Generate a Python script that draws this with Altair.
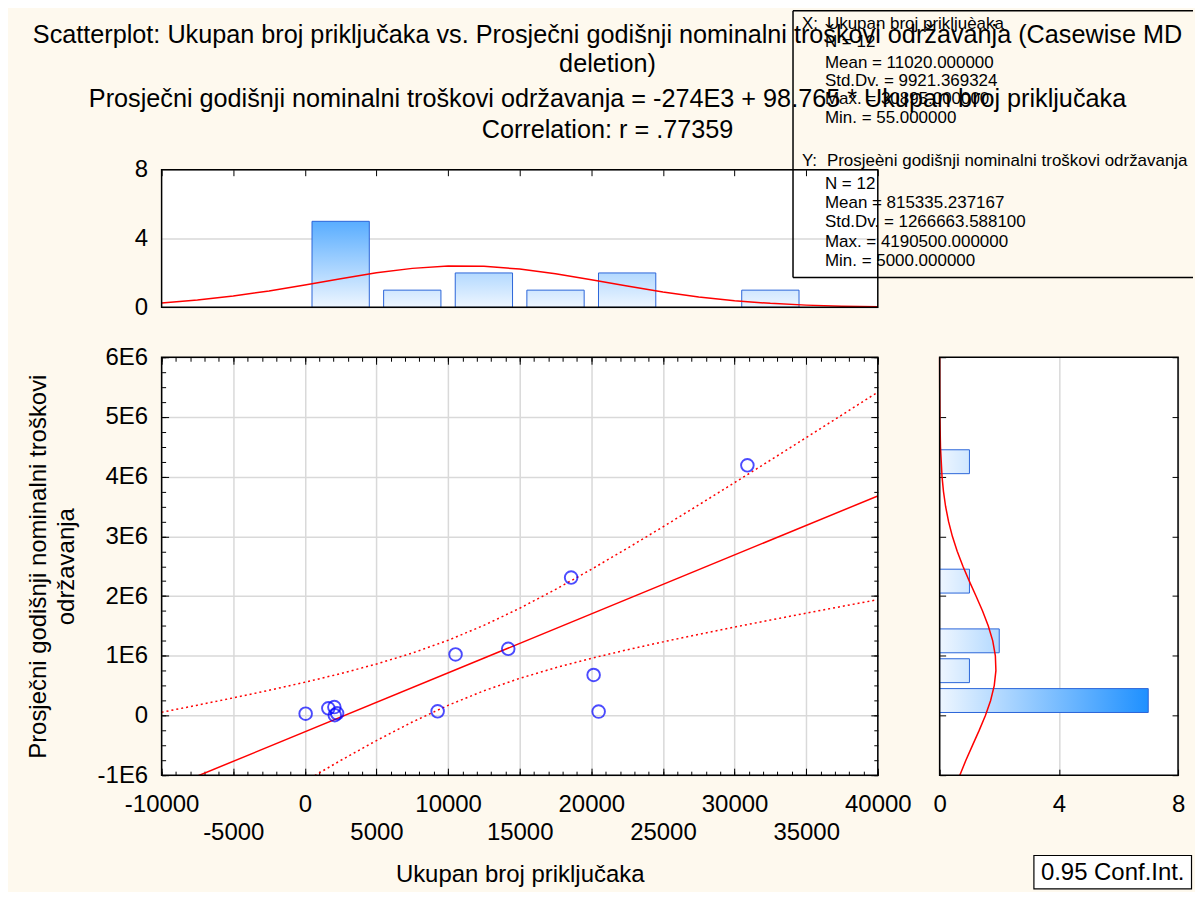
import altair as alt
import pandas as pd

# ---------------- data ----------------
pt_x = [55, 1640, 2060, 2090, 2250, 9270, 10520, 14200, 18590, 20160, 20510, 30895]
pt_y = [30000, 120000, 140000, 5000, 36500, 70000, 1022000, 1117000, 2310000, 678000, 65000, 4190500]

reg_x = [-10000, 40000]
reg_y = [-1261650, 3676600]

ci_x = [-10000, -7500, -5000, -2500, 0, 2500, 5000, 7500, 10000, 12500, 15000,
        17500, 20000, 22500, 25000, 27500, 30000, 32500, 35000, 37500, 40000]
ci_upper = [54000, 172500, 294700, 421800, 556200, 701200, 861800, 1045100, 1259100, 1509400, 1795500,
            2110700, 2447300, 2798500, 3159400, 3527200, 3899600, 4275500, 4653800, 5034100, 5415800]
ci_lower = [-2575400, -2200100, -1828500, -1461800, -1102300, -753400, -420200, -109700, 170100, 413600, 621400,
            799900, 957200, 1099900, 1232700, 1358800, 1480200, 1598200, 1713600, 1827200, 1939300]

hx_start = [0, 5000, 10000, 15000, 20000, 30000]
hx_count = [5, 1, 2, 1, 2, 1]
hy_start = [0, 500000, 1000000, 2000000, 4000000]
hy_count = [7, 1, 2, 1, 1]

nx_x = [-10000, -7500, -5000, -2500, 0, 2500, 5000, 7500, 10000, 12500, 15000,
        17500, 20000, 22500, 25000, 27500, 30000, 32500, 35000, 37500, 40000]
nx_c = [0.256, 0.423, 0.655, 0.954, 1.302, 1.669, 2.007, 2.266, 2.400, 2.386, 2.226,
        1.949, 1.602, 1.235, 0.894, 0.607, 0.387, 0.232, 0.130, 0.069, 0.034]
ny_v = [-1000000, -750000, -500000, -250000, 0, 250000, 500000, 750000, 1000000, 1250000,
        1500000, 1750000, 2000000, 2250000, 2500000, 2750000, 3000000, 3250000, 3500000,
        3750000, 4000000, 4500000, 5000000, 5500000, 6000000]
ny_c = [0.677, 0.881, 1.102, 1.327, 1.536, 1.711, 1.832, 1.888, 1.870, 1.782,
        1.633, 1.440, 1.220, 0.995, 0.781, 0.589, 0.427, 0.298, 0.200,
        0.129, 0.080, 0.028, 0.008, 0.002, 0.000]

title_lines = [
    "Scatterplot: Ukupan broj priključaka vs. Prosječni godišnji nominalni troškovi održavanja (Casewise MD",
    "deletion)",
    "Prosječni godišnji nominalni troškovi održavanja = -274E3 + 98.765 * Ukupan broj priključaka",
    "Correlation: r = .77359",
]
stats_lines = [
    "X:", "Ukupan broj prikljuèaka", "N = 12", "Mean = 11020.000000", "Std.Dv. = 9921.369324",
    "Max. = 30895.000000", "Min. = 55.000000",
    "Y:", "Prosjeèni godišnji nominalni troškovi održavanja", "N = 12", "Mean = 815335.237167",
    "Std.Dv. = 1266663.588100", "Max. = 4190500.000000", "Min. = 5000.000000",
]
x_title = "Ukupan broj priključaka"
y_title = ["Prosječni godišnji nominalni troškovi", "održavanja"]
legend_text = "0.95 Conf.Int."

# ---------------- layout / style ----------------
FONT = "Liberation Sans"
BG = "#fef9ee"
RED = "#ff0000"
W_MAIN, H_MAIN, H_TOP, W_RIGHT = 718, 419, 138, 239
GRID = "#d9d9d9"
BAR_STROKE = "#2b65d9"

# window-coordinate positions of annotation text (converted to panel coords)
TOP_OX, TOP_OY = 161, 168
R_OX, R_OY = 941, 356
WIN_R, WIN_B = 1195, 890          # last usable window pixel (page margin is 8px)
title_pos = [(608, 33), (608, 61.7), (608, 96.7), (608, 128)]
stats_pos = [(803, 21.7), (828, 21.7), (826, 40), (826, 61.5), (826, 79.5), (826, 97.5), (826, 116),
             (803, 159.5), (828, 159.5), (826, 182.5), (826, 201.5), (826, 220.5), (826, 240), (826, 259.3)]

X_MINOR = list(range(-10000, 40001, 1000))
X_MAJOR = list(range(-10000, 40001, 5000))
Y_MINOR = list(range(-1000000, 6000001, 250000))
Y_MAJOR = list(range(-1000000, 6000001, 1000000))

xs = alt.Scale(domain=[-10000, 40000], nice=False, zero=False)
ys = alt.Scale(domain=[-1000000, 6000000], nice=False, zero=False)
ts = alt.Scale(domain=[0, 8], nice=False, zero=False)


def blue(c):
    t = c / 7.0
    r = round(238 + (30 - 238) * t)
    g = round(246 + (144 - 246) * t)
    return "#%02x%02x%02x" % (r, g, 255)


def tick_axis(orient, values, size=5):
    # ticks pointing into the plot: axis pulled inside by its own length
    return alt.Axis(orient=orient, values=values, labels=False, grid=False, domain=False,
                    ticks=True, tickSize=size, tickColor="black", tickWidth=1, offset=-size, title=None)


LAB = dict(labelFont=FONT, labelFontSize=24, labelColor="black", labelFlush=False,
           labelOverlap=False, labelBound=False, ticks=False, domain=False)


def one():
    return pd.DataFrame({"a": [0]})


def frame(w, h):
    return alt.Chart(one()).mark_rect(fillOpacity=0, stroke="black", strokeWidth=1.5).encode(
        x=alt.value(0), x2=alt.value(w), y=alt.value(0), y2=alt.value(h))


def text_mark(t, x, y, size, align="left"):
    return alt.Chart(one()).mark_text(text=t, font=FONT, fontSize=size, align=align,
                                      baseline="middle", color="black").encode(
        x=alt.value(x), y=alt.value(y))


def rule(x1, y1, x2, y2, w=1.5):
    return alt.Chart(one()).mark_rule(color="black", strokeWidth=w).encode(
        x=alt.value(x1), x2=alt.value(x2), y=alt.value(y1), y2=alt.value(y2))


# ---------------- main scatter panel ----------------
pts_df = pd.DataFrame({"x": pt_x, "y": pt_y})
reg_df = pd.DataFrame({"x": reg_x, "y": reg_y})
ci_df = pd.DataFrame({"x": ci_x, "upper": ci_upper, "lower": ci_lower})

x_lab_axis = alt.Axis(
    orient="bottom", values=X_MAJOR,
    labelExpr="datum.value % 10000 === 0 ? '' + datum.value : ['', '' + datum.value]",
    labelLineHeight=27.5, labelPadding=17.5, grid=True, gridColor=GRID, gridWidth=1.5,
    title=x_title, titleFont=FONT, titleFontSize=24, titleFontWeight="normal", titleColor="black",
    titleY=100, titleBaseline="middle", **LAB)
y_lab_axis = alt.Axis(
    orient="left", values=Y_MAJOR,
    labelExpr="datum.value === 0 ? '0' : (datum.value / 1000000) + 'E6'",
    labelPadding=14, grid=True, gridColor=GRID, gridWidth=1.5,
    title=y_title, titleFont=FONT, titleFontSize=24, titleFontWeight="normal", titleColor="black",
    titleX=-135, titleY=H_MAIN / 2, titleAngle=270, titleAlign="center", titleBaseline="top",
    titleLineHeight=28, **LAB)

reg = alt.Chart(reg_df).mark_line(color=RED, strokeWidth=1.5, clip=True).encode(
    x=alt.X("x:Q", scale=xs, axis=tick_axis("bottom", X_MINOR, 4)),
    y=alt.Y("y:Q", scale=ys, axis=tick_axis("left", Y_MINOR, 4)))
ciu = alt.Chart(ci_df).mark_line(color=RED, strokeWidth=1.5, strokeDash=[2, 3], clip=True).encode(
    x=alt.X("x:Q", scale=xs, axis=tick_axis("top", X_MINOR, 4)),
    y=alt.Y("upper:Q", scale=ys, axis=tick_axis("right", Y_MINOR, 4)))
cil = alt.Chart(ci_df).mark_line(color=RED, strokeWidth=1.5, strokeDash=[2, 3], clip=True).encode(
    x=alt.X("x:Q", scale=xs, axis=tick_axis("bottom", X_MAJOR, 7)),
    y=alt.Y("lower:Q", scale=ys, axis=tick_axis("left", Y_MAJOR, 7)))
# carries the major ticks of the top and right edges (draws nothing visible)
ghost = alt.Chart(pts_df).mark_point(opacity=0).encode(
    x=alt.X("x:Q", scale=xs, axis=tick_axis("top", X_MAJOR, 7)),
    y=alt.Y("y:Q", scale=ys, axis=tick_axis("right", Y_MAJOR, 7)))
pts = alt.Chart(pts_df).mark_point(shape="circle", filled=False, color="#0000ff", size=160,
                                   strokeWidth=1.9).encode(
    x=alt.X("x:Q", scale=xs, axis=x_lab_axis),
    y=alt.Y("y:Q", scale=ys, axis=y_lab_axis))

main = alt.layer(reg, ciu, cil, ghost, pts, frame(W_MAIN, H_MAIN)).resolve_axis(
    x="independent", y="independent").properties(width=W_MAIN, height=H_MAIN)

# ---------------- top histogram (X) ----------------
hx_df = pd.DataFrame({"start": hx_start, "count": hx_count})
top_layers = []
# invisible rect fixing the overall extent of the figure (svg 1187 x 882)
top_layers.append(alt.Chart(one()).mark_rect(opacity=0).encode(
    x=alt.value(8 - TOP_OX), x2=alt.value(WIN_R - TOP_OX),
    y=alt.value(8 - TOP_OY), y2=alt.value(WIN_B - TOP_OY)))
for i, c in enumerate(sorted(set(hx_count))):
    grad = {"gradient": "linear", "x1": 0, "y1": 1, "x2": 0, "y2": 0,
            "stops": [{"offset": 0, "color": "#eef6ff"}, {"offset": 1, "color": blue(c)}]}
    if i == 0:
        xa = tick_axis("top", X_MAJOR, 6)
        ya = alt.Axis(orient="left", values=[0, 4, 8], labelPadding=14, grid=True, gridColor=GRID,
                      gridWidth=1.5, title=None, **LAB)
    else:
        xa, ya = None, None
    top_layers.append(
        alt.Chart(hx_df).transform_filter(f"datum.count == {c}")
        .transform_calculate(x0="datum.start + 500", x1="datum.start + 4500")
        .mark_rect(fill=grad, stroke=BAR_STROKE, strokeWidth=1)
        .encode(x=alt.X("x0:Q", scale=xs, axis=xa), x2="x1:Q",
                y=alt.Y("count:Q", scale=ts, axis=ya), y2=alt.datum(0)))
top_layers.append(alt.Chart(pd.DataFrame({"x": nx_x, "c": nx_c})).mark_line(
    color=RED, strokeWidth=1.5).encode(
    x=alt.X("x:Q", scale=xs, axis=None), y=alt.Y("c:Q", scale=ts, axis=None)))
top_layers.append(frame(W_MAIN, H_TOP))
for t, (wx, wy) in zip(title_lines, title_pos):
    top_layers.append(text_mark(t, wx - TOP_OX, wy - TOP_OY, 25.3, align="center"))
# statistics box (its right side runs off the picture)
bx1, by1, by2, bx2 = 794 - TOP_OX, 8.75 - TOP_OY, 276 - TOP_OY, WIN_R - TOP_OX
top_layers += [rule(bx1, by1, bx2, by1), rule(bx1, by1, bx1, by2), rule(bx1, by2, bx2, by2)]
for t, (wx, wy) in zip(stats_lines, stats_pos):
    top_layers.append(text_mark(t, wx - TOP_OX, wy - TOP_OY, 17))

top = alt.layer(*top_layers).resolve_axis(x="independent", y="independent").properties(
    width=W_MAIN, height=H_TOP)

# ---------------- right histogram (Y) ----------------
hy_df = pd.DataFrame({"start": hy_start, "count": hy_count})
r_layers = []
for i, c in enumerate(sorted(set(hy_count))):
    grad = {"gradient": "linear", "x1": 0, "y1": 0, "x2": 1, "y2": 0,
            "stops": [{"offset": 0, "color": "#eef6ff"}, {"offset": 1, "color": blue(c)}]}
    if i == 0:
        xa = alt.Axis(orient="bottom", values=[0, 4, 8], labelPadding=17.5, grid=True,
                      gridColor=GRID, gridWidth=1.5, title=None, **LAB)
        ya = tick_axis("left", Y_MAJOR, 6)
    else:
        xa, ya = None, None
    r_layers.append(
        alt.Chart(hy_df).transform_filter(f"datum.count == {c}")
        .transform_calculate(y0="datum.start + 50000", y1="datum.start + 450000")
        .mark_rect(fill=grad, stroke=BAR_STROKE, strokeWidth=1)
        .encode(x=alt.X("count:Q", scale=ts, axis=xa), x2=alt.datum(0),
                y=alt.Y("y0:Q", scale=ys, axis=ya), y2="y1:Q"))
r_layers.append(alt.Chart(pd.DataFrame({"v": ny_v, "c": ny_c})).mark_line(
    color=RED, strokeWidth=1.5).encode(
    x=alt.X("c:Q", scale=ts, axis=tick_axis("bottom", [0, 4, 8], 6)),
    y=alt.Y("v:Q", scale=ys, axis=tick_axis("right", Y_MAJOR, 6)),
    order=alt.Order("v:Q")))
r_layers.append(frame(W_RIGHT, H_MAIN))
lb_r, lb_b = WIN_R - 1.5, WIN_B - 1
lb_l, lb_t = lb_r - 158, lb_b - 33.5
r_layers.append(alt.Chart(one()).mark_rect(fill="white", stroke="black", strokeWidth=1.2).encode(
    x=alt.value(lb_l - R_OX), x2=alt.value(lb_r - R_OX),
    y=alt.value(lb_t - R_OY), y2=alt.value(lb_b - R_OY)))
r_layers.append(text_mark(legend_text, lb_l + 7 - R_OX, (lb_t + lb_b) / 2 + 1 - R_OY, 24))

right = alt.layer(*r_layers).resolve_axis(x="independent", y="independent").properties(
    width=W_RIGHT, height=H_MAIN)

lower = alt.hconcat(main, right, spacing=62, bounds="flush")
chart = alt.vconcat(top, lower, spacing=50, bounds="flush").properties(
    background=BG, padding=0).configure_view(fill="white", stroke="transparent")

chart.save("out.html", embed_options={"renderer": "svg", "actions": False})
